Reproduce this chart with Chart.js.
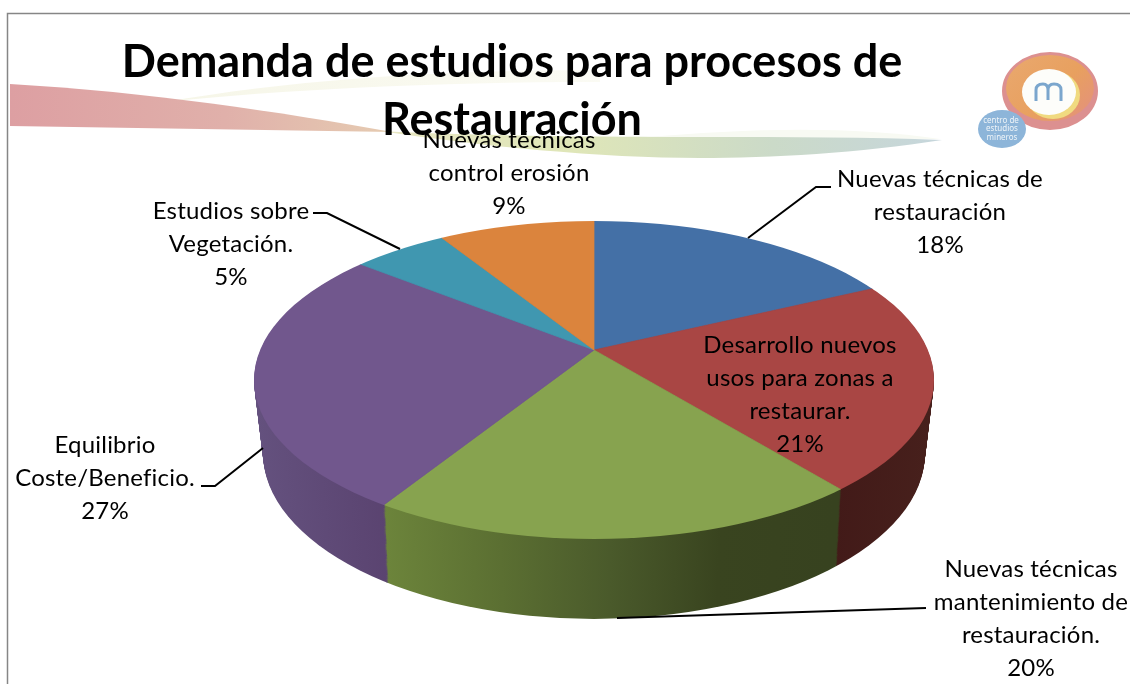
<!DOCTYPE html>
<html lang="es">
<head>
<meta charset="utf-8">
<title>Demanda de estudios</title>
<script src="https://cdn.jsdelivr.net/npm/chart.js@4"></script>
<style>
  html, body { margin: 0; padding: 0; background: #fff; }
  canvas { display: block; }
</style>
</head>
<body>
<canvas id="pie3d" width="1130" height="684"></canvas>
<script>
// data
const titleLines = ['Demanda de estudios para procesos de', 'Restauración'];
const categories = [
  ['Nuevas técnicas de', 'restauración'],
  ['Desarrollo nuevos', 'usos para zonas a', 'restaurar.'],
  ['Nuevas técnicas', 'mantenimiento de', 'restauración.'],
  ['Equilibrio', 'Coste/Beneficio.'],
  ['Estudios sobre', 'Vegetación.'],
  ['Nuevas técnicas', 'control erosión']
];
const values = [18, 21, 20, 26.6, 5.4, 9];
const topColors = ['#4470a6', '#a94644', '#87a34f', '#71578d', '#4097b0', '#db843d'];

// label placement: centre x, first line centre y
const labelAnchors = [[940, 179], [800, 345], [1031, 569], [105, 445], [231, 211], [509, 140]];
const leaders = [
  [[831, 187], [816, 187], [748, 238]],
  null,
  [[926, 608], [617, 618]],
  [[201, 486], [215, 486], [263, 448]],
  [[313, 213], [327, 213], [400, 249]],
  null
];

// side wall shading, [x, colour] stops
const wallStops = [
  [[254, '#2f4a70']],
  [[836, '#421a18'], [934, '#47201c']],
  [[384, '#6c843b'], [500, '#5b6f32'], [610, '#4a5a2b'], [720, '#39441f'], [836, '#37421f']],
  [[254, '#64517e'], [388, '#5a4370']],
  [[254, '#2a6577']],
  [[254, '#94592a']]
];

// projected shape of the disc (top rim and bottom rim)
const rim = { top: { ey: 380, rx: 340, ry: 159, vy: 350 }, bottom: { ey: 453, rx: 331, ry: 166, vy: 419 } };

const lerp = (a, b, t) => a + (b - a) * t;

function placeDisc(ctx, arc, t) {
  const ey = lerp(rim.top.ey, rim.bottom.ey, t);
  const rx = lerp(rim.top.rx, rim.bottom.rx, t);
  const ry = lerp(rim.top.ry, rim.bottom.ry, t);
  const vy = lerp(rim.top.vy, rim.bottom.vy, t);
  ctx.beginPath();
  ctx.ellipse(arc.x, ey, rx, ry, 0, 0, Math.PI * 2);
  ctx.clip();
  ctx.translate(arc.x, vy);
  ctx.scale(rx / rim.top.rx, ry / rim.top.rx);
  ctx.translate(-arc.x, -arc.y);
}

const discPlugin = {
  id: 'disc',
  beforeDraw(chart) {
    drawBackdrop(chart.ctx);
  },
  beforeDatasetsDraw(chart) {
    const ctx = chart.ctx;
    const arcs = chart.getDatasetMeta(0).data;
    const grads = wallStops.map(stops => {
      const first = stops[0][0], last = stops[stops.length - 1][0];
      if (stops.length === 1) return stops[0][1];
      const g = ctx.createLinearGradient(first, 0, last, 0);
      stops.forEach(s => g.addColorStop((s[0] - first) / (last - first), s[1]));
      return g;
    });
    const depth = rim.bottom.ey - rim.top.ey;
    for (let i = depth; i > 0; i--) {
      ctx.save();
      placeDisc(ctx, arcs[0], i / depth);
      arcs.forEach((arc, n) => {
        const saved = arc.options;
        arc.options = { ...saved, backgroundColor: grads[n], borderColor: grads[n] };
        arc.draw(ctx);
        arc.options = saved;
      });
      ctx.restore();
    }
  },
  beforeDatasetDraw(chart) {
    chart.ctx.save();
    placeDisc(chart.ctx, chart.getDatasetMeta(0).data[0], 0);
  },
  afterDatasetDraw(chart) {
    chart.ctx.restore();
  },
  afterDraw(chart) {
    drawLabels(chart.ctx);
  }
};

function drawBackdrop(ctx) {
  ctx.save();
  ctx.fillStyle = '#fff';
  ctx.fillRect(0, 0, 1130, 684);

  // pale upper swoosh
  let g = ctx.createLinearGradient(170, 0, 620, 0);
  g.addColorStop(0, '#f6f6e8');
  g.addColorStop(1, '#fbfbf4');
  ctx.fillStyle = g;
  ctx.beginPath();
  ctx.moveTo(165, 102);
  ctx.bezierCurveTo(280, 82, 420, 70, 600, 70);
  ctx.lineTo(600, 82);
  ctx.bezierCurveTo(430, 82, 280, 90, 165, 102);
  ctx.fill();

  // pale halo over the green swoosh
  ctx.fillStyle = '#f8faf3';
  ctx.beginPath();
  ctx.moveTo(640, 138);
  ctx.bezierCurveTo(750, 128, 850, 126, 940, 139);
  ctx.closePath();
  ctx.fill();

  // pink swoosh
  g = ctx.createLinearGradient(10, 0, 400, 0);
  g.addColorStop(0, '#dd9fa2');
  g.addColorStop(0.55, '#e0b0aa');
  g.addColorStop(1, '#e6cdb2');
  ctx.fillStyle = g;
  ctx.beginPath();
  ctx.moveTo(10, 84);
  ctx.bezierCurveTo(150, 92, 280, 112, 392, 132);
  ctx.lineTo(10, 126);
  ctx.closePath();
  ctx.fill();

  // green swoosh
  g = ctx.createLinearGradient(380, 0, 940, 0);
  g.addColorStop(0, '#e8e6c2');
  g.addColorStop(0.35, '#dfe6b8');
  g.addColorStop(0.7, '#cbdac8');
  g.addColorStop(1, '#c6d6dc');
  ctx.fillStyle = g;
  ctx.beginPath();
  ctx.moveTo(380, 131);
  ctx.bezierCurveTo(480, 136, 600, 137, 700, 137);
  ctx.bezierCurveTo(790, 137, 870, 137, 942, 140);
  ctx.bezierCurveTo(860, 153, 770, 158, 700, 158);
  ctx.bezierCurveTo(600, 158, 480, 146, 380, 131);
  ctx.fill();

  // frame
  ctx.strokeStyle = '#868686';
  ctx.lineWidth = 1.5;
  ctx.beginPath();
  ctx.moveTo(7.5, 684);
  ctx.lineTo(7.5, 13.5);
  ctx.lineTo(1130, 13.5);
  ctx.stroke();

  // logo
  ctx.filter = 'blur(0.7px)';
  g = ctx.createLinearGradient(1010, 55, 1085, 130);
  g.addColorStop(0, '#e9a86e');
  g.addColorStop(0.55, '#e8a05f');
  g.addColorStop(1, '#e38f80');
  ctx.fillStyle = '#dc9090';
  ctx.beginPath();
  ctx.ellipse(1050, 91, 48, 39, 0, 0, Math.PI * 2);
  ctx.fill();
  ctx.fillStyle = g;
  ctx.beginPath();
  ctx.ellipse(1050, 88, 44, 33, 0, 0, Math.PI * 2);
  ctx.fill();
  ctx.fillStyle = '#f0da80';
  ctx.beginPath();
  ctx.ellipse(1053, 95, 27, 24, 0, 0, Math.PI * 2);
  ctx.fill();
  ctx.fillStyle = '#fdfdfa';
  ctx.beginPath();
  ctx.ellipse(1049, 92, 27, 23, 0, 0, Math.PI * 2);
  ctx.fill();
  ctx.strokeStyle = '#7ba6cd';
  ctx.lineWidth = 3;
  ctx.beginPath();
  ctx.moveTo(1036, 101);
  ctx.lineTo(1036, 90);
  ctx.quadraticCurveTo(1036, 84, 1043, 84);
  ctx.quadraticCurveTo(1048, 84, 1048, 90);
  ctx.lineTo(1048, 100);
  ctx.moveTo(1048, 90);
  ctx.quadraticCurveTo(1048, 84, 1054, 84);
  ctx.quadraticCurveTo(1061, 84, 1061, 90);
  ctx.lineTo(1061, 101);
  ctx.stroke();
  ctx.fillStyle = '#8db5d9';
  ctx.beginPath();
  ctx.ellipse(1002, 129, 24, 19, 0, 0, Math.PI * 2);
  ctx.fill();
  ctx.filter = 'none';
  ctx.fillStyle = '#eef4f8';
  ctx.font = '8px "Noto Sans"';
  ctx.textAlign = 'center';
  ctx.textBaseline = 'middle';
  ctx.fillText('centro de', 1001, 121);
  ctx.fillText('estudios', 1002, 129);
  ctx.fillText('mineros', 1002, 138);
  ctx.restore();
}

function drawLabels(ctx) {
  ctx.save();
  ctx.strokeStyle = '#000';
  ctx.lineWidth = 2;
  leaders.forEach(pts => {
    if (!pts) return;
    ctx.beginPath();
    pts.forEach((p, i) => (i ? ctx.lineTo(p[0], p[1]) : ctx.moveTo(p[0], p[1])));
    ctx.stroke();
  });

  ctx.fillStyle = '#000';
  ctx.textAlign = 'center';
  ctx.textBaseline = 'middle';
  ctx.font = '24px Lato';
  ctx.letterSpacing = '0.2px';
  categories.forEach((lines, i) => {
    const [x, y] = labelAnchors[i];
    [...lines, Math.round(values[i]) + '%'].forEach((line, n) => ctx.fillText(line, x, y + n * 33));
  });

  ctx.font = 'bold 45px Lato';
  ctx.letterSpacing = '0px';
  ctx.textBaseline = 'alphabetic';
  titleLines.forEach((line, n) => ctx.fillText(line, 512, 77 + n * 58));
  ctx.restore();
}

new Chart(document.getElementById('pie3d'), {
  type: 'pie',
  data: {
    labels: categories.map(c => c.join(' ')),
    datasets: [{
      data: values,
      backgroundColor: topColors,
      borderColor: topColors,
      borderWidth: 1,
      radius: 440,
      clip: false
    }]
  },
  options: {
    responsive: false,
    animation: false,
    layout: { padding: { left: 58, top: 16 } },
    plugins: { legend: { display: false }, tooltip: { enabled: false } }
  },
  plugins: [discPlugin]
});
</script>
</body>
</html>
